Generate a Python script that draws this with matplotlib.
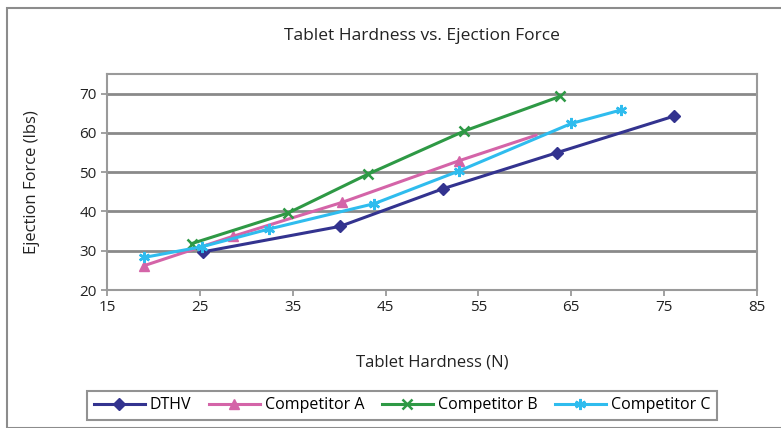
import matplotlib.pyplot as plt
from matplotlib.patches import Rectangle

plt.rcParams['font.family'] = ['Open Sans', 'DejaVu Sans']

# data
dthv_x = [25.3, 40.1, 51.2, 63.5, 76.1]
dthv_y = [29.7, 36.2, 45.8, 55.0, 64.3]

compA_x = [19.0, 28.6, 40.3, 52.9, 61.2]
compA_y = [26.2, 33.7, 42.3, 52.9, 59.4]

compB_x = [24.1, 34.5, 43.1, 53.5, 63.8]
compB_y = [31.8, 39.6, 49.5, 60.5, 69.3]

compC_x = [19.0, 25.2, 32.4, 43.8, 52.9, 65.0, 70.3]
compC_y = [28.3, 31.0, 35.5, 42.0, 50.3, 62.4, 65.8]

x_ticks = [15, 25, 35, 45, 55, 65, 75, 85]
y_ticks = [20, 30, 40, 50, 60, 70]

fig = plt.figure(figsize=(7.81, 4.28), dpi=100)
fig.patches.append(Rectangle((7/781, 0), 1, 1 - 8/428, transform=fig.transFigure,
                             fill=False, edgecolor='#8c8c8c', linewidth=1.5))

ax = fig.add_axes([107/781, 1 - 290/428, 650/781, 216/428])

ax.plot(dthv_x, dthv_y, color='#33338f', lw=2.2, marker='D', ms=6, label='DTHV', zorder=3)
ax.plot(compA_x, compA_y, color='#d464a8', lw=2.2, marker='^', ms=7, markevery=[0, 1, 2, 3],
        label='Competitor A', zorder=3)
ax.plot(compB_x, compB_y, color='#2e9945', lw=2.2, marker='x', ms=7, mew=1.8,
        label='Competitor B', zorder=4)
ax.plot(compC_x, compC_y, color='#2fbcee', lw=2.2, marker=(6, 2, 0), ms=8, mew=1.8,
        label='Competitor C', zorder=5)

ax.set_xlim(15, 85)
ax.set_ylim(20, 75)
ax.set_xticks(x_ticks)
ax.set_yticks(y_ticks)
ax.grid(axis='y', color='#8a8a8a', lw=2)
ax.set_axisbelow(True)
for s in ax.spines.values():
    s.set_color('#9a9a9a')
    s.set_linewidth(1.5)
ax.tick_params(length=4, width=1.3, color='#9a9a9a', labelsize=11, labelcolor='#222222')

fig.text(422/781, 1 - 36/428, 'Tablet Hardness vs. Ejection Force', fontsize=12.5,
         ha='center', va='center', color='#222222')
ax.set_xlabel('Tablet Hardness (N)', fontsize=12, labelpad=28, color='#222222')
ax.set_ylabel('Ejection Force (lbs)', fontsize=12, labelpad=28, color='#222222')

leg = ax.legend(loc='upper center', bbox_to_anchor=(0.454, -0.43), ncol=4, frameon=True,
                fancybox=False, edgecolor='#777777', fontsize=11.5, handlelength=3.2,
                handletextpad=0.3, columnspacing=1.1, borderpad=0.4)
leg.get_frame().set_linewidth(1.5)

plt.savefig('out.png', dpi=100)
